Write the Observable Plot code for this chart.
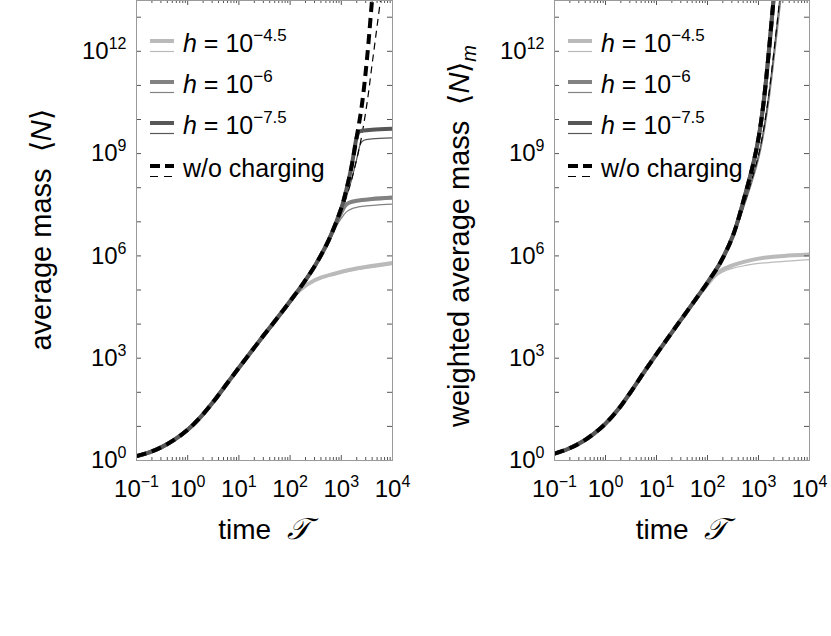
<!DOCTYPE html>
<html><head><meta charset="utf-8">
<script src="https://cdn.jsdelivr.net/npm/d3@7"></script>
<script src="https://cdn.jsdelivr.net/npm/@observablehq/plot@0.6"></script>
<style>
html,body{margin:0;padding:0;background:#fff;}
#wrap{position:relative;width:831px;height:636px;display:flex;overflow:hidden;}
</style></head><body><div id="wrap"></div>
<script>
// ---------- data: pairs of [log10 time, log10 mass] ----------
const xTickExps = [-1, 0, 1, 2, 3, 4];
const yLabelExps = [0, 3, 6, 9, 12];
const yTickExps = [0,1,2,3,4,5,6,7,8,9,10,11,12,13];

const legendLabels = ["−4.5", "−6", "−7.5"];

// Left panel: average mass <N>
const L_early = [[-1,0.13],[-0.75,0.24],[-0.5,0.4],[-0.25,0.62],[0,0.9],[0.25,1.27],[0.5,1.72],[0.75,2.22],[1,2.72],[1.25,3.21],[1.5,3.7],[1.75,4.18]];
const L_nochargeThick = [...L_early,[2,4.67],[2.25,5.18],[2.5,5.75],[2.75,6.45],[3,7.4],[3.1,7.95],[3.2,8.62],[3.3,9.48],[3.4,10.4],[3.5,11.75],[3.6,13.5],[3.65,14.4]];
const L_nochargeThin  = [...L_early,[2,4.67],[2.25,5.18],[2.5,5.75],[2.75,6.42],[3,7.27],[3.1,7.73],[3.2,8.23],[3.3,8.83],[3.38,9.37],[3.5,10.45],[3.6,11.6],[3.7,12.75],[3.8,13.9]];
const L_h75Thick = [...L_early,[2,4.67],[2.25,5.18],[2.5,5.75],[2.75,6.45],[3,7.4],[3.1,7.95],[3.2,8.62],[3.3,9.48],[3.34,9.63],[3.4,9.67],[3.6,9.7],[4,9.73]];
const L_h75Thin  = [...L_early,[2,4.67],[2.25,5.18],[2.5,5.75],[2.75,6.42],[3,7.27],[3.1,7.73],[3.2,8.23],[3.3,8.83],[3.38,9.3],[3.44,9.39],[3.6,9.43],[4,9.46]];
const L_h6Thick = [...L_early,[2,4.67],[2.25,5.18],[2.5,5.75],[2.75,6.45],[2.9,6.95],[3,7.27],[3.08,7.48],[3.15,7.56],[3.3,7.62],[3.6,7.67],[4,7.71]];
const L_h6Thin  = [...L_early,[2,4.67],[2.25,5.18],[2.5,5.75],[2.75,6.4],[2.9,6.86],[3,7.1],[3.1,7.29],[3.2,7.38],[3.4,7.45],[4,7.52]];
const L_h45Thick = [...L_early,[1.95,4.57],[2.1,4.87],[2.25,5.07],[2.4,5.22],[2.6,5.36],[2.85,5.47],[3.2,5.6],[3.5,5.68],[4,5.79]];
const L_h45Thin  = [...L_early,[1.95,4.57],[2.1,4.86],[2.25,5.06],[2.4,5.21],[2.6,5.34],[2.85,5.45],[3.2,5.57],[3.5,5.65],[4,5.76]];

// Right panel: weighted average mass <N>_m
const R_early = [[-1,0.2],[-0.75,0.33],[-0.5,0.51],[-0.25,0.76],[0,1.08],[0.25,1.5],[0.5,2.02],[0.75,2.58],[1,3.12],[1.25,3.65],[1.5,4.17],[1.75,4.69]];
const R_nochargeThick = [...R_early,[2,5.22],[2.25,5.8],[2.5,6.6],[2.75,7.86],[2.9,8.72],[3,9.45],[3.1,10.5],[3.2,11.95],[3.3,13.6],[3.35,14.4]];
const R_nochargeThin  = [...R_early,[2,5.22],[2.25,5.8],[2.5,6.56],[2.75,7.66],[2.9,8.4],[3,8.95],[3.1,9.7],[3.2,10.7],[3.3,11.95],[3.4,13.3],[3.45,14.0]];
const R_h75Thick = [...R_early,[2,5.22],[2.25,5.8],[2.5,6.6],[2.75,7.86],[2.9,8.72],[3,9.45],[3.1,10.5],[3.2,11.95],[3.3,13.6],[3.35,14.4]];
const R_h75Thin  = [...R_early,[2,5.22],[2.25,5.8],[2.5,6.56],[2.75,7.66],[2.9,8.4],[3,8.95],[3.1,9.7],[3.2,10.7],[3.3,11.95],[3.4,13.3],[3.45,14.0]];
const R_h6Thick = [...R_early,[2,5.22],[2.25,5.8],[2.5,6.6],[2.75,7.86],[2.9,8.72],[3,9.45],[3.1,10.5],[3.2,11.95],[3.3,13.6],[3.35,14.4]];
const R_h6Thin  = [...R_early,[2,5.22],[2.25,5.8],[2.5,6.54],[2.75,7.6],[2.9,8.3],[3,8.83],[3.1,9.55],[3.2,10.5],[3.3,11.7],[3.4,13.0],[3.5,14.4]];
const R_h45Thick = [...R_early,[2,5.17],[2.15,5.43],[2.3,5.6],[2.5,5.73],[2.75,5.84],[3,5.92],[3.25,5.97],[3.5,6.0],[4,6.04]];
const R_h45Thin  = [...R_early,[2,5.15],[2.15,5.39],[2.3,5.53],[2.5,5.64],[2.75,5.72],[3,5.78],[3.5,5.84],[4,5.89]];

// ---------- styles ----------
const FONT = '"Liberation Sans", Arial, Helvetica, sans-serif';
const C_LIGHT = "#bababa", C_MID = "#828282", C_DARK = "#575757", C_BLACK = "#000";
const THICK = 4, THIN = 1.2;

function toRows(pairs){ return pairs.map(([a,b]) => ({t: 10**a, n: 10**b})); }
function fmt(d){ const e = Math.round(Math.log10(d)); return "10^" + String(e).replace("-", "\u2212"); }

function series(set){
  return [
    {d: set.h45Thin, c: C_LIGHT, w: THIN},
    {d: set.h6Thin, c: C_MID, w: THIN},
    {d: set.h75Thin, c: C_DARK, w: THIN},
    {d: set.ncThin, c: C_BLACK, w: THIN, dash: "7,5"},
    {d: set.h45Thick, c: C_LIGHT, w: THICK},
    {d: set.h6Thick, c: C_MID, w: THICK},
    {d: set.h75Thick, c: C_DARK, w: THICK},
    {d: set.ncThick, c: C_BLACK, w: THICK, dash: "10,6"}
  ];
}

function makePanel(cfg){
  const {width, ml, mr, set, titleParts} = cfg;
  const H = 460;
  const innerW = width - ml - mr;
  const xMajor = xTickExps.map(e => 10**e);
  const xMinor = [];
  for (const e of xTickExps.slice(0,-1)) for (let k=2;k<=9;k++) xMinor.push(k*10**e);
  const yTicks = yTickExps.map(e => 10**e);
  const yLabels = yLabelExps.map(e => 10**e);
  const lineMarks = series(set).map(s => Plot.line(toRows(s.d), {
    x: "t", y: "n", stroke: s.c, strokeWidth: s.w, strokeDasharray: s.dash,
    curve: "catmull-rom", clip: true, strokeLinecap: "butt"
  }));
  const tk = "#555";
  const svg = Plot.plot({
    width, height: 636, marginLeft: ml, marginRight: mr, marginTop: 0, marginBottom: 636 - H,
    x: {type: "log", domain: [0.1, 1e4]},
    y: {type: "log", domain: [1, 10**13.49]},
    style: {background: "transparent", overflow: "visible", fontFamily: FONT, color: "#000"},
    marks: [
      ...lineMarks,
      Plot.tickY(yTicks, {y: d => d, insetRight: innerW - 5, stroke: tk}),
      Plot.tickY(yTicks, {y: d => d, insetLeft: innerW - 5, stroke: tk}),
      Plot.tickX(xMajor, {x: d => d, insetTop: H - 5, stroke: tk}),
      Plot.tickX(xMajor, {x: d => d, insetBottom: H - 5, stroke: tk}),
      Plot.tickX(xMinor, {x: d => d, insetTop: H - 3, stroke: tk}),
      Plot.tickX(xMinor, {x: d => d, insetBottom: H - 3, stroke: tk}),
      Plot.frame({stroke: "#9a9a9a"}),
      Plot.axisY({ticks: yLabels, tickSize: 0, tickPadding: 10, tickFormat: fmt, fontSize: 24, label: null}),
      Plot.axisX({ticks: xMajor, tickSize: 0, tickPadding: 19, tickFormat: fmt, fontSize: 24, label: null})
    ]
  });
  const s = d3.select(svg);
  s.selectAll('g[aria-label$="tick label"] text').each(function(){
    const t = this.textContent; const parts = t.split("^");
    if (parts.length < 2) return;
    const el = d3.select(this); el.text(parts[0]);
    el.append("tspan").attr("dy", -10).attr("font-size", 16).text(parts[1]);
  });
  // axis titles
  const cx = ml + innerW/2;
  const xt = s.append("text").attr("x", cx).attr("y", 539).attr("text-anchor", "middle")
    .attr("font-family", FONT).attr("font-size", 28).attr("fill", "#000");
  xt.append("tspan").text("time  ");
  xt.append("tspan").attr("font-family", '"DejaVu Serif", serif').attr("font-style", "italic").attr("font-size", 30).text("𝒯");
  const yt = s.append("text").attr("transform", `translate(${cfg.yTitleX},${cfg.yTitleY}) rotate(-90)`)
    .attr("text-anchor", "middle").attr("font-family", FONT).attr("font-size", 29).attr("fill", "#000");
  yt.append("tspan").text(titleParts.pre + "  ⟨");
  yt.append("tspan").attr("font-style", "italic").text("N");
  yt.append("tspan").text("⟩");
  if (titleParts.sub) yt.append("tspan").attr("font-style", "italic").attr("font-size", 20).attr("dy", 7).text(titleParts.sub);
  // legend
  const lx = ml + 14, tx = ml + 47;
  const rows = [
    {c: C_LIGHT, y: 41, lab: legendLabels[0]},
    {c: C_MID, y: 82, lab: legendLabels[1]},
    {c: C_DARK, y: 123, lab: legendLabels[2]},
    {c: C_BLACK, y: 166, lab: null}
  ];
  const lg = s.append("g").attr("font-family", FONT).attr("font-size", 25).attr("text-anchor", "start");
  for (const r of rows){
    lg.append("line").attr("x1", lx).attr("x2", lx+24).attr("y1", r.y).attr("y2", r.y)
      .attr("stroke", r.c).attr("stroke-width", THICK).attr("stroke-dasharray", r.lab ? null : "10,5");
    lg.append("line").attr("x1", lx).attr("x2", lx+24).attr("y1", r.y+10.5).attr("y2", r.y+10.5)
      .attr("stroke", r.c).attr("stroke-width", THIN).attr("stroke-dasharray", r.lab ? null : "8,6");
    const t = lg.append("text").attr("x", tx).attr("y", r.y + 11).attr("fill", "#000").attr("text-anchor", "start");
    if (r.lab){
      t.append("tspan").attr("font-style", "italic").text("h");
      t.append("tspan").text(" = 10");
      t.append("tspan").attr("dy", -11).attr("font-size", 17).text(r.lab);
    } else {
      t.text("w/o charging");
    }
  }
  return svg;
}

const wrap = document.getElementById("wrap");
wrap.appendChild(makePanel({
  width: 416, ml: 136, mr: 24, yTitleX: 51, yTitleY: 230,
  titleParts: {pre: "average mass"},
  set: {h45Thin: L_h45Thin, h6Thin: L_h6Thin, h75Thin: L_h75Thin, ncThin: L_nochargeThin,
        h45Thick: L_h45Thick, h6Thick: L_h6Thick, h75Thick: L_h75Thick, ncThick: L_nochargeThick}
}));
wrap.appendChild(makePanel({
  width: 415, ml: 138, mr: 22, yTitleX: 53, yTitleY: 236,
  titleParts: {pre: "weighted average mass", sub: "m"},
  set: {h45Thin: R_h45Thin, h6Thin: R_h6Thin, h75Thin: R_h75Thin, ncThin: R_nochargeThin,
        h45Thick: R_h45Thick, h6Thick: R_h6Thick, h75Thick: R_h75Thick, ncThick: R_nochargeThick}
}));
</script></body></html>
